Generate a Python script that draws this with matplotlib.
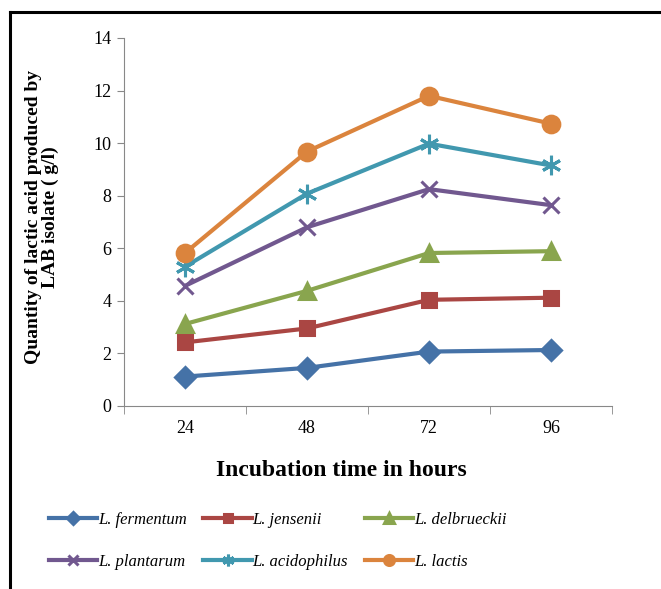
import matplotlib.pyplot as plt
from matplotlib.lines import Line2D

plt.rcParams['font.family'] = ['Liberation Serif', 'DejaVu Serif']

# hours of incubation and lactic acid (g/l) for each isolate
hours = ['24', '48', '72', '96']
fermentum = [1.12, 1.45, 2.07, 2.13]
jensenii = [2.42, 2.95, 4.04, 4.12]
delbrueckii = [3.12, 4.38, 5.82, 5.89]
plantarum = [4.57, 6.80, 8.25, 7.64]
acidophilus = [5.30, 8.08, 9.98, 9.15]
lactis = [5.82, 9.68, 11.80, 10.74]

series = [
    ('L. fermentum', fermentum, '#4572A7', 'D', 10),
    ('L. jensenii', jensenii, '#AA4643', 's', 10),
    ('L. delbrueckii', delbrueckii, '#89A54E', '^', 11),
    ('L. plantarum', plantarum, '#71588F', 'x', 12),
    ('L. acidophilus', acidophilus, '#4198AF', (6, 2, 0), 14),
    ('L. lactis', lactis, '#DB843D', 'o', 12),
]

fig = plt.figure(figsize=(6.61, 5.89), dpi=100)
ax = fig.add_axes([0.1876, 0.3107, 0.7383, 0.6248])

x = range(len(hours))
handles = []
for name, vals, col, mk, ms in series:
    h, = ax.plot(x, vals, color=col, lw=3, marker=mk, ms=ms, mew=2.2,
                 mec=col, mfc=col, label=name)
    handles.append(h)

ax.set_xlim(-0.5, 3.5)
ax.set_ylim(0, 14)
ax.set_yticks(range(0, 15, 2))
ax.set_xticks(list(x))
ax.set_xticklabels(hours)
ax.set_xticks([-0.5, 0.5, 1.5, 2.5, 3.5], minor=True)
ax.tick_params(axis='x', which='major', length=0, pad=10, labelsize=13)
ax.tick_params(axis='x', which='minor', length=6, color='#888888')
ax.tick_params(axis='y', length=5, color='#888888', labelsize=13, pad=4)
for s in ['top', 'right']:
    ax.spines[s].set_visible(False)
for s in ['left', 'bottom']:
    ax.spines[s].set_color('#888888')

ax.set_ylabel('Quantity of lactic acid produced by\nLAB isolate ( g/l)',
              fontsize=14, fontweight='bold', linespacing=1.0)
ax.yaxis.set_label_coords(-0.133, 0.514)
fig.text(0.517, 0.202, 'Incubation time in hours', fontsize=17,
         fontweight='bold', ha='center', va='center')

# legend filled row by row like the original
order = [0, 3, 1, 4, 2, 5]
fig.legend([handles[i] for i in order], [series[i][0] for i in order],
           loc='center', bbox_to_anchor=(0.42, 0.082), ncol=3,
           frameon=False, prop={'style': 'italic', 'size': 12},
           markerscale=0.6, handlelength=2.9, handletextpad=0.05,
           columnspacing=1.0, labelspacing=1.55)

# outer frame
fig.add_artist(Line2D([0.0145, 0.0145], [0, 0.98], color='black', lw=2.2,
                      transform=fig.transFigure))
fig.add_artist(Line2D([0.0145, 1.0], [0.98, 0.98], color='black', lw=2.2,
                      transform=fig.transFigure))

fig.savefig('out.png', dpi=100)
